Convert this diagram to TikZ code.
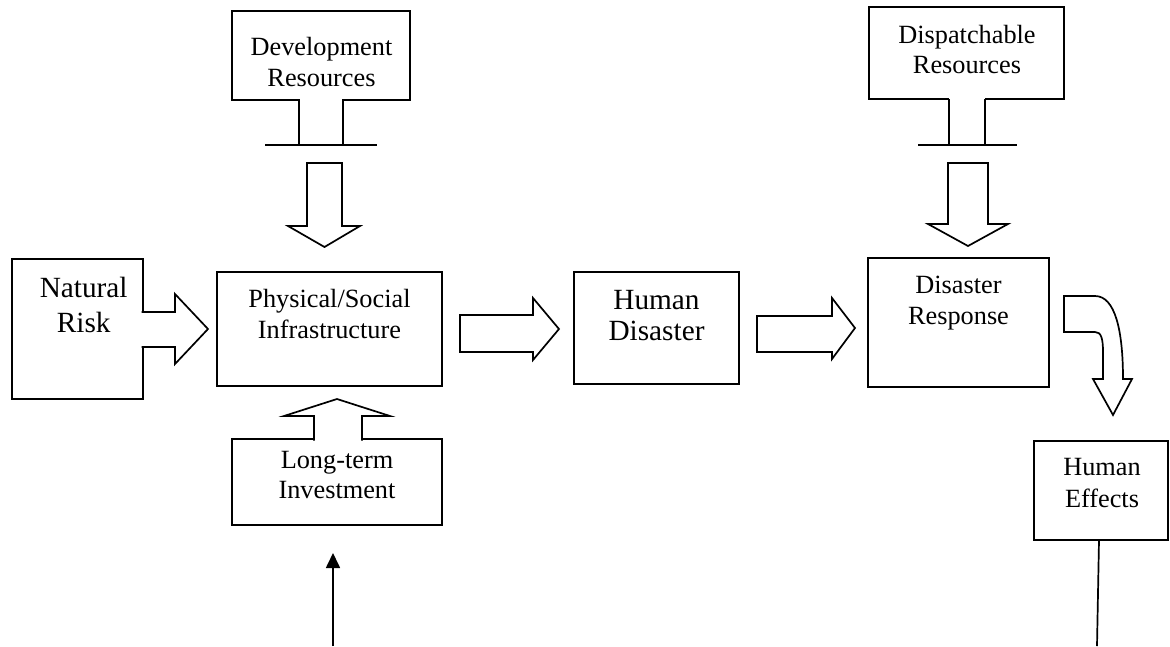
\documentclass[tikz,border=0pt]{standalone}
\usepackage{fontspec}
\setmainfont{Liberation Serif}
\usetikzlibrary{arrows.meta}
\begin{document}
\begin{tikzpicture}[x=1pt,y=-1pt,
  ln/.style={line width=1.7pt, line join=miter},
  box/.style={draw, line width=1.7pt, rectangle, inner sep=0pt, outer sep=0pt, anchor=north west},
  lbl/.style={anchor=base, inner sep=0pt, font=\fontsize{26.3}{31}\selectfont},
  lblbig/.style={anchor=base, inner sep=0pt, font=\fontsize{29.3}{34}\selectfont},
  hollow/.style={draw, fill=white, line width=1.7pt, line join=miter},
]
\useasboundingbox (0,0) rectangle (1170,646);

% boxes
\node[box, minimum width=131pt, minimum height=140pt] (risk) at (12,259) {};
\node[box, minimum width=225pt, minimum height=114pt] (phys) at (217,272) {};
\node[box, minimum width=165pt, minimum height=112pt] (hdis) at (574,272) {};
\node[box, minimum width=181pt, minimum height=129pt] (resp) at (868,258) {};
\node[box, minimum width=134pt, minimum height=99pt] (heff) at (1034,441) {};
\node[box, minimum width=178pt, minimum height=89pt] (dev) at (232,11) {};
\node[box, minimum width=195pt, minimum height=92pt] (disp) at (869,7) {};
\node[box, minimum width=210pt, minimum height=86pt] (lti) at (232,439) {};

% labels
\node[lblbig] (riskA) at (83.7,297) {Natural};
\node[lblbig] (riskB) at (83.7,332) {Risk};
\node[lbl] (physA) at (329.5,307) {Physical/Social};
\node[lbl] (physB) at (329.5,338) {Infrastructure};
\node[lblbig] (hdisA) at (656.5,309) {Human};
\node[lblbig] (hdisB) at (656.5,340) {Disaster};
\node[lbl] (respA) at (958.5,293) {Disaster};
\node[lbl] (respB) at (958.5,324) {Response};
\node[lbl] (heffA) at (1102,475) {Human};
\node[lbl] (heffB) at (1102,507) {Effects};
\node[lbl] (devA) at (321.5,55) {Development};
\node[lbl] (devB) at (321.5,86) {Resources};
\node[lbl] (dispA) at (967,43) {Dispatchable};
\node[lbl] (dispB) at (967,73) {Resources};
\node[lbl] (ltiA) at (337,468) {Long-term};
\node[lbl] (ltiB) at (337,498) {Investment};

% natural risk arrow merged with box
\draw[hollow] (141.5,312) -- (175,312) -- (175,294) -- (208,329) -- (175,364) -- (175,347) -- (141.5,347);

% long-term investment up arrow merged with box
\draw[hollow] (314,440.5) -- (314,416) -- (284,416) -- (337,399) -- (390,416) -- (362,416) -- (362,440.5);

% development resources tap
\fill[white] (299,98) rectangle (343,145);
\draw[ln] (299,99) -- (299,145) (343,145) -- (343,99);
\draw[ln] (265,145) -- (377,145);
\draw[hollow] (307,163) -- (342,163) -- (342,226) -- (360,226) -- (324.5,247) -- (288,226) -- (307,226) -- cycle;

% dispatchable resources tap
\fill[white] (949,98) rectangle (985,145);
\draw[ln] (949,99) -- (949,145) (985,145) -- (985,99);
\draw[ln] (918,145) -- (1017,145);
\draw[hollow] (948,163) -- (988,163) -- (988,224) -- (1008,224) -- (968,246) -- (928,224) -- (948,224) -- cycle;

% horizontal hollow arrows
\draw[hollow] (460,315) -- (533,315) -- (533,298) -- (559,329) -- (533,360) -- (533,352) -- (460,352) -- cycle;
\draw[hollow] (757,316) -- (832,316) -- (832,298) -- (855,328) -- (832,359) -- (832,352) -- (757,352) -- cycle;

% curved hollow arrow
\draw[hollow] (1064,296) -- (1095,296) .. controls (1115,296) and (1123,330) .. (1123,379)
  -- (1132,379) -- (1113,415) -- (1093,379) -- (1103,379) -- (1103,352)
  .. controls (1103,338) and (1101,332) .. (1095,332) -- (1064,332) -- cycle;

% black arrow into long-term investment
\coordinate (lbot) at (333,646);
\coordinate (ltip) at (333,553);
\draw[line width=1.7pt, -{Triangle[length=15pt,width=14pt]}] (lbot) -- (ltip);

% line down from human effects
\coordinate (hetop) at (1099,540);
\coordinate (hebot) at (1097,646);
\draw[ln] (hetop) -- (hebot);
\end{tikzpicture}
\end{document}
